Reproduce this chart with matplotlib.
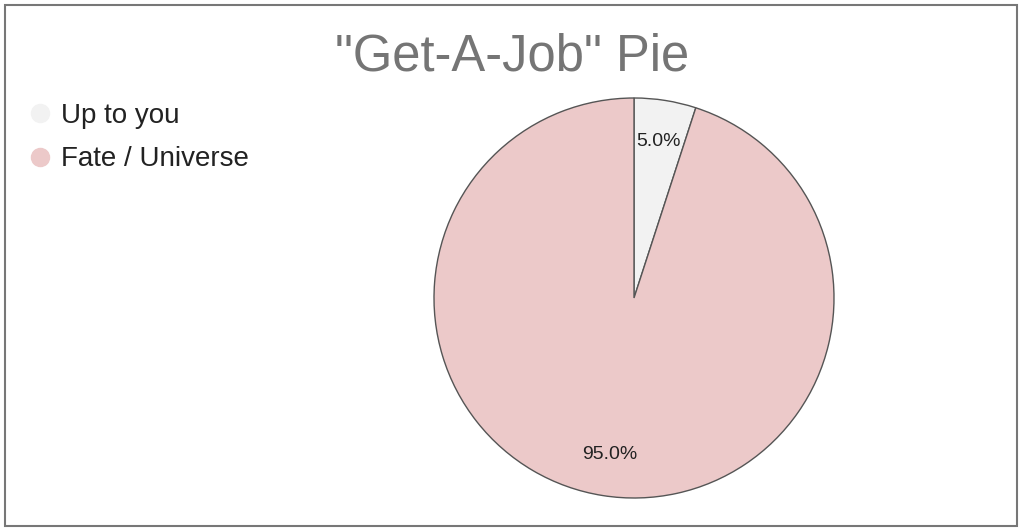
import matplotlib
matplotlib.use("Agg")
import matplotlib.pyplot as plt
from matplotlib.patches import Rectangle
from matplotlib.lines import Line2D

plt.rcParams['font.family'] = ['Liberation Sans', 'DejaVu Sans']

labels = ["Up to you", "Fate / Universe"]
values = [5.0, 95.0]
colors = ["#f2f2f2", "#ecc9c9"]
title = '"Get-A-Job" Pie'

fig = plt.figure(figsize=(10.24, 5.32), dpi=100)
fig.patch.set_facecolor("white")

# outer border
fig.patches.append(Rectangle((5/1024, 6/532), 1012/1024, 521/532, transform=fig.transFigure,
                             fill=False, edgecolor="#777777", linewidth=1.5))

ax = fig.add_axes([(634-200)/1024, (532-498)/532, 400/1024, 400/532])
wedges, texts, autotexts = ax.pie(values, colors=colors, startangle=90, counterclock=False,
                                  autopct='%1.1f%%', pctdistance=0.79,
                                  wedgeprops=dict(edgecolor="#555555", linewidth=1.0),
                                  textprops=dict(fontsize=14, color="#222222"))
ax.set_aspect('equal')
ax.set_xlim(-1, 1)
ax.set_ylim(-1, 1)

fig.text(512/1024, 1 - 57/532, title, ha='center', va='center', fontsize=36.5, color="#757575")

handles = [Line2D([], [], marker='o', linestyle='None', markersize=13,
                  markerfacecolor=c, markeredgecolor=c) for c in colors]
fig.legend(handles, labels, loc='upper left', bbox_to_anchor=(26/1024, 1 - 103/532),
           frameon=False, fontsize=20, handletextpad=0.25, labelspacing=0.63,
           handlelength=1.0, borderaxespad=0, borderpad=0, labelcolor="#222222")

fig.savefig("out.png", dpi=100)
